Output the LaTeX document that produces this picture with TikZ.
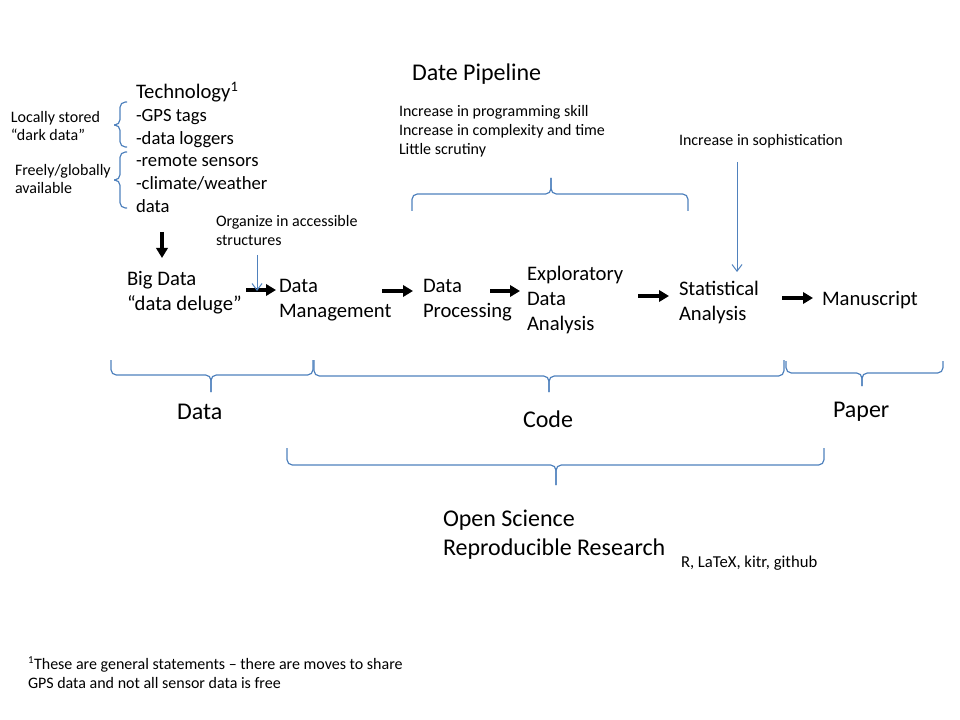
\documentclass[tikz,border=0pt]{standalone}
\usepackage{fontspec}
\setmainfont{Carlito}
\usetikzlibrary{arrows.meta}
\definecolor{bracecol}{RGB}{79,129,189}
\newcommand\szbig{\fontsize{18pt}{21.75pt}\selectfont}
\newcommand\szmain{\fontsize{15.5pt}{18.75pt}\selectfont}
\newcommand\szlist{\fontsize{14pt}{16.9pt}\selectfont}
\newcommand\szsmall{\fontsize{12pt}{14.25pt}\selectfont}
\newcommand\szside{\fontsize{12pt}{13.5pt}\selectfont}
\newcommand\sztiny{\fontsize{12.5pt}{14pt}\selectfont}
\tikzset{
  txt/.style={anchor=west, inner sep=0pt, outer sep=0pt, align=left},
  bigarrow/.style={line width=3pt, -{Triangle[length=7.5pt,width=8.5pt]}},
  thinarrow/.style={draw=bracecol, line width=0.75pt, -{Straight Barb[length=5pt,width=7.5pt]}},
  bracestyle/.style={draw=bracecol, line width=0.9pt, rounded corners=4pt}
}
\begin{document}
\begin{tikzpicture}[x=0.75pt,y=-0.75pt]
\useasboundingbox (0,0) rectangle (960,720);

% texts
\node[txt, font=\szbig] (pipeline) at (412,74) {Date Pipeline};
\node[txt, font=\szsmall] (incr) at (399,131.5) {Increase in programming skill\\Increase in complexity and time\\Little scrutiny};
\node[txt, font=\szsmall] (soph) at (679,141.5) {Increase in sophistication};

\node[txt, font=\szmain] (tech) at (136,92.5) {Technology\textsuperscript{1}};
\node[txt, font=\szlist] (techlist) at (136,161) {-GPS tags\\-data loggers\\-remote sensors\\-climate/weather\\data};
\node[txt, font=\szside] (locally) at (11,126.5) {Locally stored\\“dark data”};
\node[txt, font=\szside] (freely) at (15,179.5) {Freely/globally\\available};
\node[txt, font=\szsmall] (organize) at (216,231) {Organize in accessible\\structures};

\node[txt, font=\szmain] (bigdata) at (127,293) {Big Data\\“data deluge”};
\node[txt, font=\szmain] (dm) at (279,300) {Data\\Management};
\node[txt, font=\szmain] (dp) at (423,300) {Data\\Processing};
\node[txt, font=\szmain] (eda) at (527,300) {Exploratory\\Data\\Analysis};
\node[txt, font=\szmain] (sa) at (679,302) {Statistical\\Analysis};
\node[txt, font=\szmain] (ms) at (822,300) {Manuscript};

\node[txt, font=\szbig] (datalbl) at (177,412) {Data};
\node[txt, font=\szbig] (codelbl) at (523,419) {Code};
\node[txt, font=\szbig] (paperlbl) at (833,412) {Paper};

\node[txt, font=\szbig] (open) at (443,535) {Open Science\\Reproducible Research};
\node[txt, font=\sztiny] (rlatex) at (681,563) {R, LaTeX, kitr, github};
\node[txt, font=\szsmall] (foot) at (28,673) {\textsuperscript{1}These are general statements – there are moves to share\\GPS data and not all sensor data is free};

% arrow coordinates
\coordinate (d1) at (162,232); \coordinate (d2) at (162,258);
\coordinate (a1s) at (246,290); \coordinate (a1e) at (276,290);
\coordinate (a2s) at (382,291); \coordinate (a2e) at (413,291);
\coordinate (a3s) at (490,291); \coordinate (a3e) at (520,291);
\coordinate (a4s) at (638,296); \coordinate (a4e) at (669,296);
\coordinate (a5s) at (782,298); \coordinate (a5e) at (813,298);
\coordinate (o1) at (257,255); \coordinate (o2) at (257,291);
\coordinate (s1) at (737,162); \coordinate (s2) at (737,272);

\draw[bigarrow] (d1) -- (d2);
\draw[bigarrow] (a1s) -- (a1e);
\draw[bigarrow] (a2s) -- (a2e);
\draw[bigarrow] (a3s) -- (a3e);
\draw[bigarrow] (a4s) -- (a4e);
\draw[bigarrow] (a5s) -- (a5e);
\draw[thinarrow] (o1) -- (o2);
\draw[thinarrow] (s1) -- (s2);

% braces (left pointing)
\draw[bracestyle] (127,102) -- (120,102) -- (120,125) -- (114,125);
\draw[bracestyle] (127,147) -- (120,147) -- (120,125) -- (114,125);
\draw[bracestyle] (127,152) -- (120,152) -- (120,180) -- (114,180);
\draw[bracestyle] (127,208) -- (120,208) -- (120,180) -- (114,180);
% top brace (up)
\draw[bracestyle] (412,211) -- (412,194) -- (551,194) -- (551,178);
\draw[bracestyle] (688,211) -- (688,194) -- (551,194) -- (551,178);
% bottom braces (down)
\draw[bracestyle] (111,360) -- (111,375) -- (211,375) -- (211,392);
\draw[bracestyle] (313,360) -- (313,375) -- (211,375) -- (211,392);
\draw[bracestyle] (314,360) -- (314,376) -- (549,376) -- (549,392);
\draw[bracestyle] (784,360) -- (784,376) -- (549,376) -- (549,392);
\draw[bracestyle] (786,361) -- (786,373) -- (862,373) -- (862,386);
\draw[bracestyle] (943,361) -- (943,373) -- (862,373) -- (862,386);
\draw[bracestyle] (287,448) -- (287,465) -- (556,465) -- (556,485);
\draw[bracestyle] (824,448) -- (824,465) -- (556,465) -- (556,485);
\end{tikzpicture}
\end{document}
